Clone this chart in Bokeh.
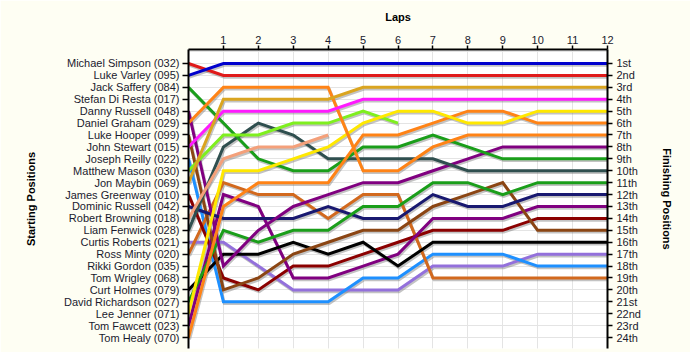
import numpy as np
from bokeh.plotting import figure
from bokeh.models import Range1d, LinearAxis, FixedTicker, Grid
from bokeh.embed import file_html
from bokeh.resources import INLINE

laps = list(range(13))
lap_ticks = list(range(1, 13))

start_names = [
    "Michael Simpson (032)", "Luke Varley (095)", "Jack Saffery (084)", "Stefan Di Resta (017)",
    "Danny Russell (048)", "Daniel Graham (029)", "Luke Hooper (099)", "John Stewart (015)",
    "Joseph Reilly (022)", "Matthew Mason (030)", "Jon Maybin (069)", "James Greenway (010)",
    "Dominic Russell (042)", "Robert Browning (018)", "Liam Fenwick (028)", "Curtis Roberts (021)",
    "Ross Minty (020)", "Rikki Gordon (035)", "Tom Wrigley (068)", "Curt Holmes (079)",
    "David Richardson (027)", "Lee Jenner (071)", "Tom Fawcett (023)", "Tom Healy (070)",
]
finish_labels = [
    "1st", "2nd", "3rd", "4th", "5th", "6th", "7th", "8th", "9th", "10th", "11th", "12th",
    "13th", "14th", "15th", "16th", "17th", "18th", "19th", "20th", "21st", "22nd", "23rd", "24th",
]

# position at lap 0..12 (None = retired)
michael_simpson = [1, 2, 2, 2, 2, 2, 2, 2, 2, 2, 2, 2, 2]
luke_varley = [2, 1, 1, 1, 1, 1, 1, 1, 1, 1, 1, 1, 1]
jack_saffery = [3, 6, 9, 10, 10, 8, 8, 7, 8, 9, 9, 9, 9]
danny_russell = [5, 18, 15, 13, 12, 11, 11, 10, 9, 8, 8, 8, 8]
daniel_graham = [6, 3, 3, 3, 3, 10, 10, 8, 7, 7, 7, 7, 7]
luke_hooper = [7, 20, 19, 17, 16, 15, 15, 13, 12, 11, 15, 15, 15]
john_stewart = [8, 5, 5, 5, 5, 4, 4, 4, 4, 4, 4, 4, 4]
joseph_reilly = [9, 21, 21, 21, 21, 19, 19, 17, 17, 17, 18, 18, 18]
matthew_mason = [10, 7, 7, 6, 6, 5, 6, None, None, None, None, None, None]
jon_maybin = [11, 4, 4, 4, 4, 3, 3, 3, 3, 3, 3, 3, 3]
james_greenway = [12, 19, 20, 18, 18, 17, 16, 15, 15, 15, 14, 14, 14]
dominic_russell = [13, 14, 14, 14, 13, 14, 14, 12, 13, 13, 12, 12, 12]
robert_browning = [14, 9, 8, 8, 7, None, None, None, None, None, None, None, None]
liam_fenwick = [15, 8, 6, 7, 9, 9, 9, 9, 10, 10, 10, 10, 10]
curtis_roberts = [16, 16, 18, 20, 20, 20, 20, 18, 18, 18, 17, 17, 17]
ross_minty = [17, 11, 12, 12, 14, 12, 12, 19, 19, 19, 19, 19, 19]
curt_holmes = [20, 17, 17, 16, 17, 16, 18, 16, 16, 16, 16, 16, 16]
david_richardson = [21, 15, 16, 15, 15, 13, 13, 11, 11, 12, 11, 11, 11]
lee_jenner = [22, 10, 10, 9, 8, 6, 5, 5, 6, 6, 5, 5, 5]
tom_fawcett = [23, 12, 13, 19, 19, 18, 17, 14, 14, 14, 13, 13, 13]
tom_healy = [24, 13, 11, 11, 11, 7, 7, 6, 5, 5, 6, 6, 6]

series = [
    (curtis_roberts, "#9370db"), (joseph_reilly, "#1e90ff"), (ross_minty, "#d2691e"),
    (james_greenway, "#8b0000"), (tom_fawcett, "#800080"), (curt_holmes, "#000000"),
    (luke_hooper, "#8b4513"), (dominic_russell, "#191970"), (david_richardson, "#1a9e1a"),
    (danny_russell, "#800080"), (liam_fenwick, "#2f4f4f"), (jack_saffery, "#1a9e1a"),
    (robert_browning, "#f4a07a"), (matthew_mason, "#7fef1f"), (tom_healy, "#ff8316"),
    (lee_jenner, "#ffe800"), (daniel_graham, "#ff8316"), (john_stewart, "#ff1aff"),
    (jon_maybin, "#daa520"), (michael_simpson, "#e01a1a"), (luke_varley, "#0000cd"),
]

p = figure(width=690, height=352, x_range=Range1d(0, 12), y_range=Range1d(24.92, -0.175),
           output_backend="svg", toolbar_location=None,
           x_axis_location=None, y_axis_location=None,
           min_border_left=188, min_border_right=83, min_border_top=49, min_border_bottom=4,
           background_fill_color="#ffffff", border_fill_color="#fefef3",
           outline_line_color=None)

p.add_layout(Grid(dimension=0, ticker=FixedTicker(ticks=lap_ticks), grid_line_color="#e4e4e4"))
p.add_layout(Grid(dimension=1, ticker=FixedTicker(ticks=list(range(1, 25))), grid_line_color="#e4e4e4"))

FONT = "Liberation Sans"
LBL = "#1a1a2e"

def style(ax):
    ax.axis_line_color = "black"
    ax.axis_line_width = 2
    ax.major_tick_line_color = "black"
    ax.major_tick_line_width = 1.5
    ax.minor_tick_line_color = None
    ax.major_tick_in = 0
    ax.major_label_text_font = FONT
    ax.major_label_text_font_size = "11px"
    ax.major_label_text_color = LBL
    ax.axis_label_text_font = FONT
    ax.axis_label_text_font_size = "11px"
    ax.axis_label_text_font_style = "bold"
    ax.axis_label_text_color = "black"

top = LinearAxis(ticker=FixedTicker(ticks=lap_ticks), axis_label="Laps")
style(top)
top.major_tick_out = 4
top.major_label_standoff = 2
top.axis_label_standoff = 10
p.add_layout(top, "above")

left = LinearAxis(ticker=FixedTicker(ticks=list(range(1, 25))), axis_label="Starting Positions",
                  major_label_overrides={i + 1: n for i, n in enumerate(start_names)})
style(left)
left.major_tick_out = 6
left.major_label_standoff = 3
left.axis_label_standoff = 24
p.add_layout(left, "left")

right = LinearAxis(ticker=FixedTicker(ticks=list(range(1, 25))), axis_label="Finishing Positions",
                   major_label_overrides={i + 1: n for i, n in enumerate(finish_labels)})
style(right)
right.major_tick_out = 5
right.major_label_standoff = 4
right.axis_label_standoff = 17
p.add_layout(right, "right")

x = np.array(laps, dtype=float)
DX, DY = 0.03, 0.15
for pos, col in series:
    y = np.array([np.nan if v is None else v for v in pos], dtype=float)
    p.line(x + DX, y + DY, line_color="#7a7a7a", line_alpha=0.45, line_width=3, line_join="miter")
for pos, col in series:
    y = np.array([np.nan if v is None else v for v in pos], dtype=float)
    p.line(x, y, line_color=col, line_width=3, line_join="miter")

open("out.html", "w").write(file_html(p, INLINE))
